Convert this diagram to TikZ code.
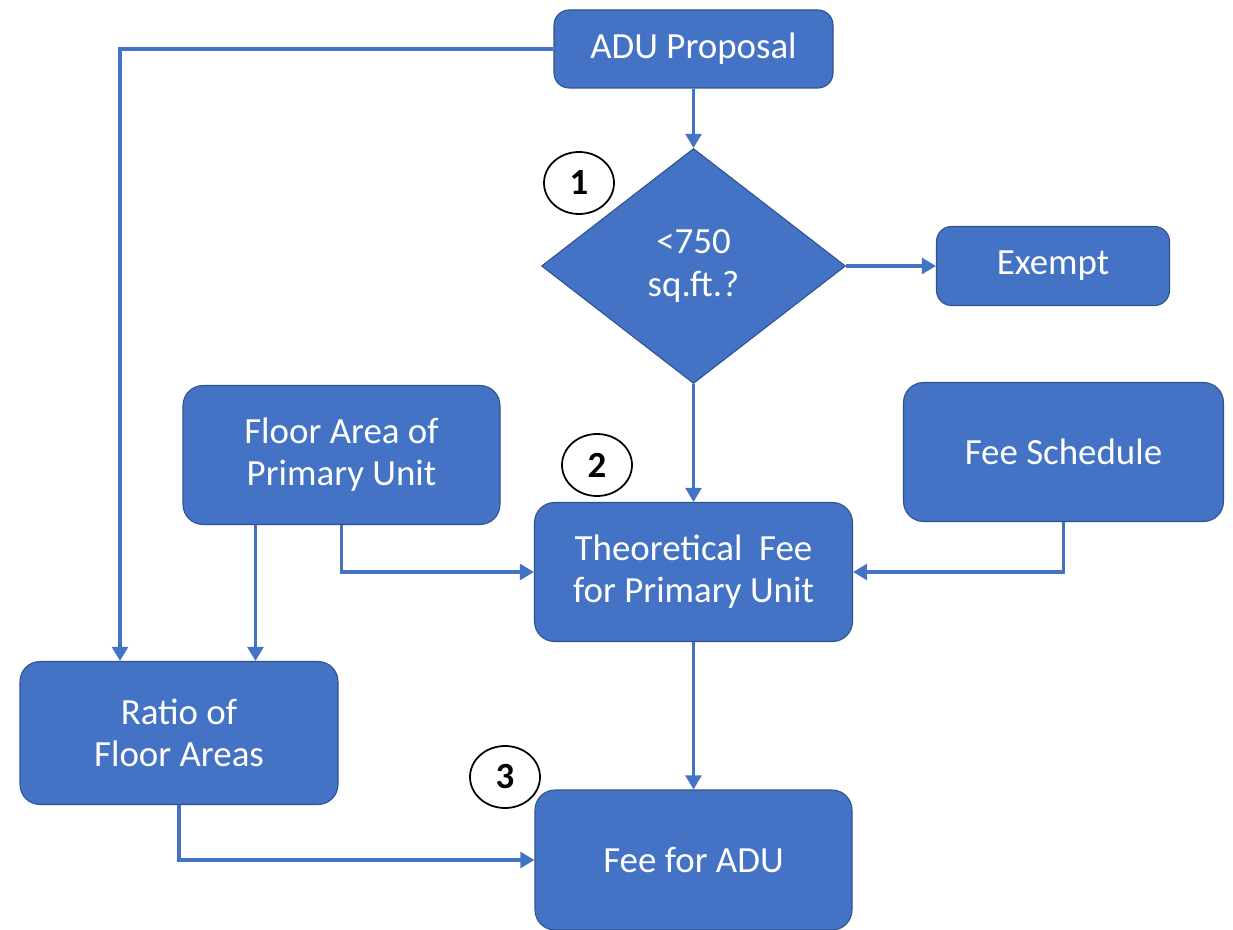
\documentclass[tikz,border=0pt]{standalone}
\usepackage{fontspec}
\setmainfont{Carlito}
\usetikzlibrary{shapes.geometric,arrows.meta,positioning}
\definecolor{boxblue}{HTML}{4472C4}
\definecolor{boxedge}{HTML}{2F528F}

\begin{document}
\begin{tikzpicture}[auto, node distance=2cm, >={Triangle[width=9pt,length=8pt]},
    box/.style={draw=boxedge, line width=0.6pt, fill=boxblue, rounded corners=0.4cm, text=white, align=center, inner sep=0pt, font=\fontsize{21}{24}\selectfont},
    decision/.style={draw=boxedge, line width=0.6pt, fill=boxblue, diamond, text=white, align=center, inner sep=0pt, font=\fontsize{21}{24}\selectfont},
    num/.style={draw=black, line width=1pt, ellipse, minimum width=1.4cm, minimum height=1.24cm, inner sep=0pt, font=\fontsize{21}{24}\selectfont\bfseries},
    line/.style={draw=boxblue, line width=1.8pt}]

        \useasboundingbox (0,0) rectangle (24.66,-18.6);

        % Nós
        \node [box, minimum width=5.58cm, minimum height=1.56cm, rounded corners=0.3cm] (prop) at (13.87,-0.98) {ADU Proposal};
        \node [decision, minimum width=6.08cm, minimum height=4.7cm, below of=prop, node distance=4.34cm] (dec) {{<}750\\sq.ft.?};
        \node [box, minimum width=4.66cm, minimum height=1.58cm, rounded corners=0.3cm, right of=dec, node distance=7.19cm] (exempt) {Exempt};
        \node [box, minimum width=6.36cm, minimum height=2.78cm, below of=dec, node distance=6.12cm] (theo) {Theoretical\ \ Fee\\for Primary Unit};
        \node [box, minimum width=6.34cm, minimum height=2.8cm, below of=theo, node distance=5.76cm] (fee) {Fee for ADU};
        \node [box, minimum width=6.34cm, minimum height=2.78cm] (floor) at ([xshift=-7.04cm,yshift=2.34cm]theo) {Floor Area of\\Primary Unit};
        \node [box, minimum width=6.4cm, minimum height=2.78cm] (sched) at ([xshift=7.4cm,yshift=2.4cm]theo) {Fee Schedule};
        \node [box, minimum width=6.36cm, minimum height=2.86cm] (ratio) at ([xshift=-10.29cm,yshift=-3.22cm]theo) {Ratio of\\Floor Areas};

        % Números
        \node [num] (n1) at (11.58,-3.66) {1};
        \node [num] (n2) at (11.94,-9.3) {2};
        \node [num] (n3) at (10.1,-15.54) {3};

        % Conexões
        \draw [line,->] (prop.west) -| ([xshift=-1.18cm]ratio.north);
        \draw [line,->] (prop) -- (dec);
        \draw [line,->] (dec) -- (exempt);
        \draw [line,->] (dec) -- (theo);
        \draw [line,->] (theo) -- (fee);
        \draw [line,->] ([xshift=-1.72cm]floor.south) -- ([xshift=-1.72cm]floor.south |- ratio.north);
        \draw [line,->] (floor.south) |- (theo.west);
        \draw [line,->] (sched.south) |- (theo.east);
        \draw [line,->] (ratio.south) |- (fee.west);

    \end{tikzpicture}
\end{document}
